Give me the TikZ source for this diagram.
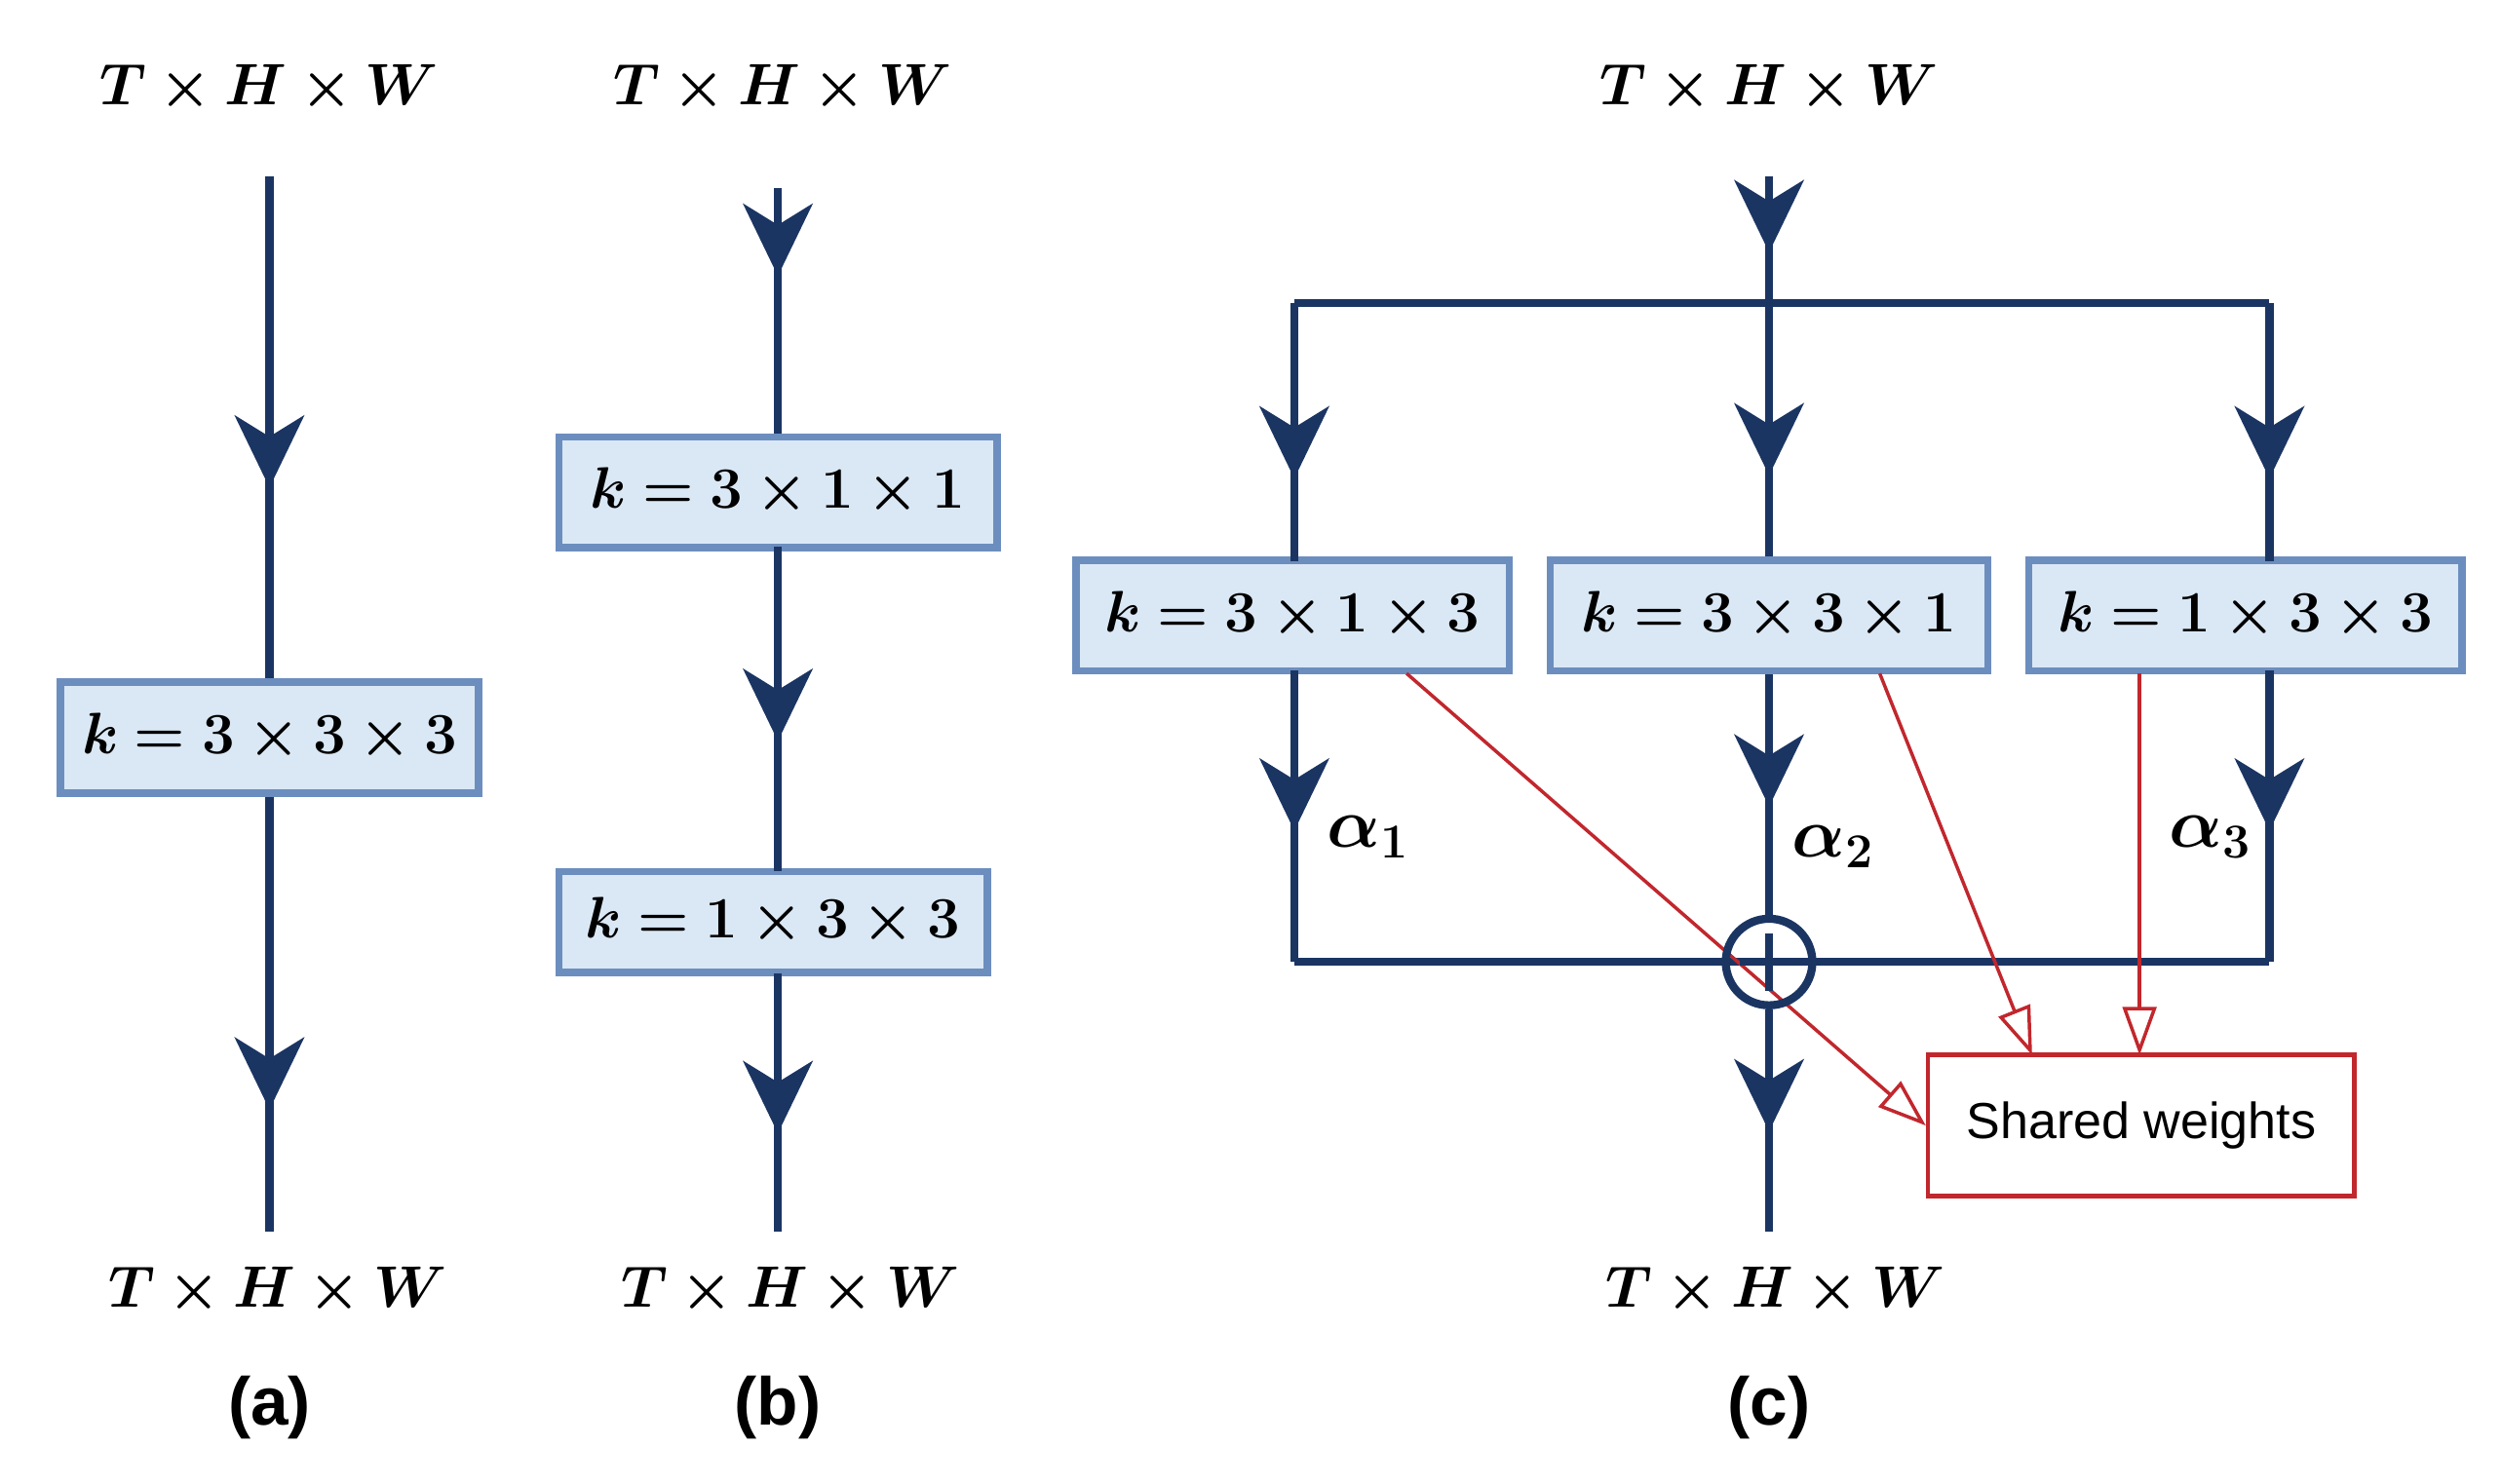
\documentclass[tikz,border=0pt]{standalone}
\usepackage{amsmath,bm}
\usepackage{fontspec}
\setsansfont{Liberation Sans}
\usetikzlibrary{arrows.meta,decorations.markings}
\definecolor{navy}{HTML}{1B3563}
\definecolor{bfill}{HTML}{DAE8F5}
\definecolor{bdraw}{HTML}{6C8EBF}
\definecolor{rd}{HTML}{C1272D}
\begin{document}
\begin{tikzpicture}[x=1cm/60,y=-1cm/60,
  ln/.style={navy,line width=2.4pt},
  ar/.style={ln,postaction={decorate},decoration={markings,mark=at position #1 with {\arrow{Stealth[length=0.75cm,width=0.72cm,inset=0.22cm]}}}},
  box/.style={draw=bdraw,fill=bfill,line width=2.2pt,minimum height=1.15cm,inner sep=3pt,font=\fontsize{17}{20}\selectfont},
  dim/.style={font=\fontsize{17}{20}\selectfont},
  alab/.style={font=\fontsize{21}{24}\selectfont,anchor=west},
  plab/.style={font=\sffamily\bfseries\fontsize{20}{24}\selectfont},
  rarr/.style={rd,line width=1pt,-{Triangle[open,length=0.5cm,width=0.35cm]}}]
\useasboundingbox (0,0) rectangle (1560,925);
% (a)
\node[dim] (at) at (168,55) {$\bm{T\times H\times W}$};
\node[dim] (ab) at (173,805) {$\bm{T\times H\times W}$};
\node[box,minimum width=4.35cm] (ak) at (168,460) {$\bm{k=3\times3\times3}$};
\coordinate (a0) at (168,110); \coordinate (a1) at (168,768);
\draw[ar=0.62] (a0) -- (ak.north);
\draw[ar=0.72] (ak.south) -- (a1);
\node[plab] (al) at (168,878) {(a)};
% (b)
\node[dim] (bt) at (488,55) {$\bm{T\times H\times W}$};
\node[dim] (bb) at (493,805) {$\bm{T\times H\times W}$};
\node[box,minimum width=4.55cm] (bk1) at (485,307) {$\bm{k=3\times1\times1}$};
\node[box,minimum width=4.45cm,minimum height=1.05cm] (bk2) at (482,575) {$\bm{k=1\times3\times3}$};
\coordinate (b0) at (485,117); \coordinate (b1) at (485,768);
\draw[ar=0.36] (b0) -- (bk1.north);
\draw[ar=0.6] (485,341) -- (485,543);
\draw[ar=0.62] (485,607) -- (b1);
\node[plab] (bl) at (485,878) {(b)};
% (c)
\node[dim] (ct) at (1103,55) {$\bm{T\times H\times W}$};
\node[dim] (cb) at (1107,805) {$\bm{T\times H\times W}$};
\coordinate (c0) at (1103,110); \coordinate (c1) at (1103,768);
\coordinate (hl) at (807,189); \coordinate (hm) at (1103,189); \coordinate (hr) at (1415,189);
\draw[ar=0.6] (c0) -- (hm);
\draw[ln] (hl) -- (hr);
\node[box,minimum width=4.5cm] (k1) at (806,384) {$\bm{k=3\times1\times3}$};
\node[box,minimum width=4.55cm] (k2) at (1103,384) {$\bm{k=3\times3\times1}$};
\node[box,minimum width=4.5cm] (k3) at (1400,384) {$\bm{k=1\times3\times3}$};
\draw[ar=0.68] (hl) -- (807,350);
\draw[ar=0.68] (hm) -- (k2.north);
\draw[ar=0.68] (hr) -- (1415,350);
\coordinate (l1) at (807,600); \coordinate (r1) at (1415,600);
\draw[ar=0.55] (807,418) -- (l1);
\draw[ar=0.55] (1415,418) -- (r1);
\draw[ln] (l1) -- (r1);
\coordinate (s1) at (877,420); \coordinate (s2) at (1172,420); \coordinate (s3) at (1334,420);
\node[draw=rd,line width=1.3pt,minimum width=4.43cm,minimum height=1.47cm,font=\sffamily\fontsize{15}{18}\selectfont] (sw) at (1335,702) {Shared weights};
\draw[rarr] (s1) -- (sw.west);
\node[circle,draw=navy,line width=2.4pt,minimum size=0.9cm,inner sep=0pt] (sum) at (1103,600) {};
\draw[ar=0.55] (k2.south) -- (sum.north);
\draw[ar=0.55] (sum.south) -- (c1);
\draw[navy,line width=2.4pt] (1103,582) -- (1103,618) (1085,600) -- (1121,600);
\draw[rarr] (s2) -- (1267,658);
\draw[rarr] (s3) -- (1334,658);
\node[alab] (a1l) at (820,522) {$\bm{\alpha}_{\bm 1}$};
\node[alab] (a2l) at (1110,528) {$\bm{\alpha}_{\bm 2}$};
\node[alab] (a3l) at (1345,522) {$\bm{\alpha}_{\bm 3}$};
\node[plab] (cl) at (1103,878) {(c)};
\end{tikzpicture}
\end{document}
